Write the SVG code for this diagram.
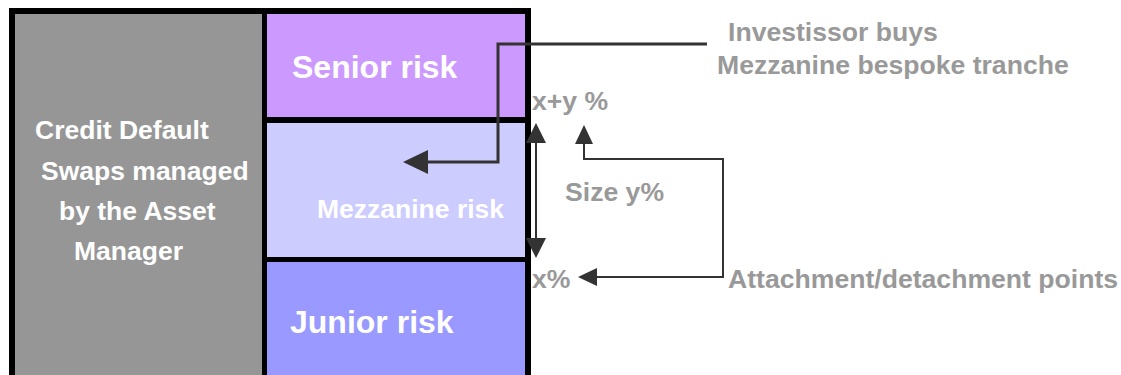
<svg xmlns="http://www.w3.org/2000/svg" width="1121" height="375" viewBox="0 0 1121 375">
  <style>
    .t { font-family: "Liberation Sans", Arial, sans-serif; font-weight: bold; }
    .w { fill: #ffffff; }
    .g { fill: #999999; font-size: 26.6px; }
    .conn { fill: none; stroke: #333333; stroke-linejoin: miter; }
  </style>
  <defs>
    <marker id="arrBig" markerUnits="userSpaceOnUse" markerWidth="26" markerHeight="26" refX="0" refY="12" orient="auto" overflow="visible">
      <path d="M0,0 L25,12 L0,24 z" fill="#333333"/>
    </marker>
    <marker id="arr" markerUnits="userSpaceOnUse" markerWidth="21" markerHeight="21" refX="0" refY="10" orient="auto-start-reverse" overflow="visible">
      <path d="M0,0 L20,10 L0,20 z" fill="#333333"/>
    </marker>
    <marker id="arrS" markerUnits="userSpaceOnUse" markerWidth="20" markerHeight="20" refX="0" refY="9" orient="auto-start-reverse" overflow="visible">
      <path d="M0,0 L19,9 L0,18 z" fill="#333333"/>
    </marker>
  </defs>
  <rect x="0" y="0" width="1121" height="375" fill="#ffffff"/>

  <g id="frame">
    <rect x="9" y="8" width="522" height="380" fill="#000000"/>
  </g>

  <g id="node-cds">
    <rect x="15" y="14" width="247" height="370" fill="#969696"/>
    <text class="t w" font-size="26.5" x="35" y="139">Credit Default</text>
    <text class="t w" font-size="26.5" x="41" y="180">Swaps managed</text>
    <text class="t w" font-size="26.5" x="59" y="220">by the Asset</text>
    <text class="t w" font-size="26.5" x="74" y="260">Manager</text>
  </g>

  <g id="node-senior">
    <rect x="267" y="14" width="258" height="103" fill="#CC99FF"/>
    <text class="t w" font-size="32" x="292" y="78">Senior risk</text>
  </g>

  <g id="node-mezzanine">
    <rect x="267" y="123" width="258" height="134" fill="#CCCCFF"/>
    <text class="t w" font-size="26.5" x="317" y="218">Mezzanine risk</text>
  </g>

  <g id="node-junior">
    <rect x="267" y="262" width="258" height="122" fill="#9999FF"/>
    <text class="t w" font-size="32" x="290" y="333">Junior risk</text>
  </g>

  <g id="connectors">
    <polyline class="conn" stroke-width="3" points="707,44 498,44 498,162 428,162" marker-end="url(#arrBig)"/>
    <line class="conn" stroke-width="2" x1="536" y1="143" x2="536" y2="238" marker-start="url(#arr)" marker-end="url(#arr)"/>
    <polyline class="conn" stroke-width="2" points="584,144 584,159 723,159 723,277 597,277" marker-start="url(#arrS)" marker-end="url(#arrS)"/>
  </g>

  <g id="labels">
    <text class="t g" x="728" y="41">Investissor buys</text>
    <text class="t g" x="717" y="74">Mezzanine bespoke tranche</text>
    <text class="t g" x="532" y="110">x+y %</text>
    <text class="t g" x="565" y="201">Size y%</text>
    <text class="t g" x="532" y="288">x%</text>
    <text class="t g" x="728" y="288">Attachment/detachment points</text>
  </g>
</svg>
